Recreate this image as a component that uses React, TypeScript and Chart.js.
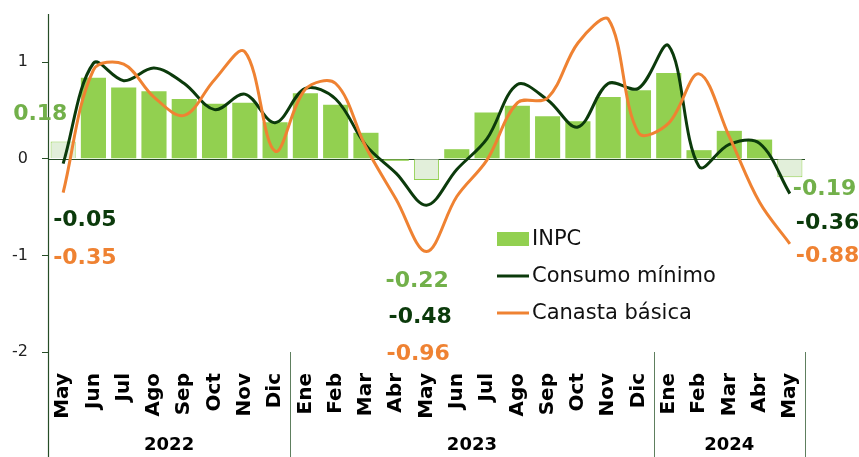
import React, { useEffect, useRef } from "react";
import { Chart, registerables } from "chart.js";

Chart.register(...registerables);

const months = ["May","Jun","Jul","Ago","Sep","Oct","Nov","Dic","Ene","Feb","Mar","Abr","May","Jun","Jul","Ago","Sep","Oct","Nov","Dic","Ene","Feb","Mar","Abr","May"];
const yearLabels = ["2022", "2023", "2024"];
const yearCounts = [8, 12, 5];

const inpc = [0.18,0.84,0.74,0.70,0.62,0.57,0.58,0.38,0.68,0.56,0.27,-0.02,-0.22,0.10,0.48,0.55,0.44,0.39,0.64,0.71,0.89,0.09,0.29,0.20,-0.19];
const consumo = [-0.05,0.99,0.81,0.94,0.78,0.51,0.67,0.375,0.73,0.62,0.14,-0.15,-0.48,-0.11,0.21,0.77,0.61,0.33,0.78,0.73,1.17,-0.08,0.15,0.16,-0.36];
const canasta = [-0.35,0.92,0.98,0.64,0.45,0.82,1.11,0.08,0.72,0.78,0.12,-0.42,-0.96,-0.39,-0.01,0.58,0.63,1.2,1.45,0.27,0.37,0.88,0.23,-0.45,-0.88];

const seriesNames = ["INPC", "Consumo mínimo", "Canasta básica"];
const labelledIdx = [0, 12, 24];
const yTicks = [-2, -1, 0, 1];

const C_BAR = "#92D050";
const C_BAR_LIGHT = "#E2EFDA";
const C_DARK = "#0B3A0B";
const C_ORANGE = "#EF8232";
const C_LGREEN = "#72B04A";
const C_AXIS = "#264d26";
const FONT = "'DejaVu Sans', sans-serif";

export default function App() {
  const ref = useRef<HTMLCanvasElement | null>(null);

  useEffect(() => {
    document.body.style.margin = "0";
    const canvas = ref.current!;

    const overlay = {
      id: "overlay",
      beforeDatasetsDraw(chart: any) {
        const { ctx, chartArea } = chart;
        const y = chart.scales.y;
        ctx.save();
        ctx.strokeStyle = C_AXIS;
        ctx.lineWidth = 1.2;
        ctx.beginPath();
        const y0 = Math.round(y.getPixelForValue(0)) + 0.5;
        ctx.moveTo(chartArea.left, y0);
        ctx.lineTo(chartArea.right, y0);
        ctx.stroke();
        ctx.restore();
      },
      afterDraw(chart: any) {
        const { ctx, chartArea } = chart;
        const x = chart.scales.x;
        const H = chart.height;
        ctx.save();
        // vertical axis line
        ctx.strokeStyle = C_AXIS;
        ctx.lineWidth = 1.2;
        ctx.beginPath();
        ctx.moveTo(chartArea.left + 0.5, chartArea.top);
        ctx.lineTo(chartArea.left + 0.5, H);
        ctx.stroke();
        // year dividers and labels
        let start = 0;
        let leftEdge = chartArea.left;
        ctx.strokeStyle = "#5E7F5E";
        ctx.lineWidth = 1;
        ctx.fillStyle = "#000";
        ctx.font = `bold 18px ${FONT}`;
        ctx.textAlign = "center";
        ctx.textBaseline = "middle";
        yearCounts.forEach((cnt, gi) => {
          const end = start + cnt - 1;
          const rightEdge =
            end + 1 < months.length
              ? (x.getPixelForValue(end) + x.getPixelForValue(end + 1)) / 2
              : chartArea.right;
          ctx.beginPath();
          ctx.moveTo(Math.round(rightEdge) + 0.5, chartArea.bottom);
          ctx.lineTo(Math.round(rightEdge) + 0.5, H);
          ctx.stroke();
          ctx.fillText(yearLabels[gi], (leftEdge + rightEdge) / 2, H - 12);
          leftEdge = rightEdge;
          start += cnt;
        });

        // data labels
        ctx.font = `bold 22px ${FONT}`;
        ctx.textAlign = "left";
        const series = [inpc, consumo, canasta];
        const colors = [C_LGREEN, C_DARK, C_ORANGE];
        const placements: Record<number, { dx: number[]; y: number[] }> = {
          0: { dx: [-50, -10, -10], y: [114, 220, 258] },
          12: { dx: [-41, -38, -40], y: [281, 317, 354] },
          24: { dx: [3, 6, 6], y: [189, 223, 256] },
        };
        labelledIdx.forEach((idx) => {
          const px = x.getPixelForValue(idx);
          const pl = placements[idx];
          series.forEach((s, si) => {
            ctx.fillStyle = colors[si];
            ctx.fillText(s[idx].toFixed(2), px + pl.dx[si], pl.y[si]);
          });
        });

        // legend
        const lx = 497;
        const ly = [239, 276, 313];
        ctx.font = `21px ${FONT}`;
        ctx.fillStyle = C_BAR;
        ctx.fillRect(lx, ly[0] - 7, 32, 14);
        ctx.lineWidth = 3;
        ctx.strokeStyle = C_DARK;
        ctx.beginPath();
        ctx.moveTo(lx, ly[1]);
        ctx.lineTo(lx + 32, ly[1]);
        ctx.stroke();
        ctx.strokeStyle = C_ORANGE;
        ctx.beginPath();
        ctx.moveTo(lx, ly[2]);
        ctx.lineTo(lx + 32, ly[2]);
        ctx.stroke();
        ctx.fillStyle = "#111";
        seriesNames.forEach((n, i) => ctx.fillText(n, lx + 35, ly[i] + 1));
        ctx.restore();
      },
    };

    const chart = new Chart(canvas, {
      type: "bar",
      data: {
        labels: months,
        datasets: [
          {
            type: "line",
            label: seriesNames[2],
            data: canasta,
            borderColor: C_ORANGE,
            borderWidth: 3,
            pointRadius: 0,
            tension: 0.35,
            clip: false as any,
            order: 1,
          },
          {
            type: "line",
            label: seriesNames[1],
            data: consumo,
            borderColor: C_DARK,
            borderWidth: 3,
            pointRadius: 0,
            tension: 0.35,
            clip: false as any,
            order: 2,
          },
          {
            type: "bar",
            label: seriesNames[0],
            data: inpc,
            backgroundColor: inpc.map((_, i) => (labelledIdx.includes(i) ? C_BAR_LIGHT : C_BAR)),
            borderColor: C_BAR,
            borderWidth: inpc.map((_, i) => (labelledIdx.includes(i) ? 1 : 0)),
            categoryPercentage: 1,
            barPercentage: 0.83,
            order: 3,
          } as any,
        ],
      },
      options: {
        responsive: false,
        animation: false,
        devicePixelRatio: 1,
        layout: { padding: { top: 14, right: 54, left: 0, bottom: 0 } },
        plugins: { legend: { display: false }, tooltip: { enabled: false } },
        scales: {
          x: {
            position: "bottom",
            grid: { display: false },
            border: { display: false },
            ticks: {
              autoSkip: false,
              minRotation: 90,
              maxRotation: 90,
              padding: 13,
              color: "#000",
              font: { family: FONT, weight: "bold", size: 20 },
            },
            afterFit: (s: any) => {
              s.height = 105;
              s.paddingLeft = 0;
              s.paddingRight = 0;
              s.paddingTop = 0;
              s.paddingBottom = 0;
            },
          },
          y: {
            min: -2,
            max: 1.5,
            grid: {
              display: true,
              drawOnChartArea: false,
              drawTicks: true,
              tickLength: 6,
              color: C_AXIS,
            },
            border: { display: false },
            ticks: {
              stepSize: 1,
              includeBounds: false,
              padding: 14,
              color: "#222",
              font: { family: FONT, size: 16 },
            },
            afterBuildTicks: (s: any) => {
              s.ticks = yTicks.map((v) => ({ value: v }));
            },
            afterFit: (s: any) => {
              s.width = 48;
              s.paddingTop = 0;
              s.paddingBottom = 0;
            },
          },
        },
      },
      plugins: [overlay],
    });
    return () => chart.destroy();
  }, []);

  return (
    <div style={{ width: 859, height: 457, position: "relative", background: "#fff" }}>
      <canvas ref={ref} width={859} height={457} />
    </div>
  );
}
